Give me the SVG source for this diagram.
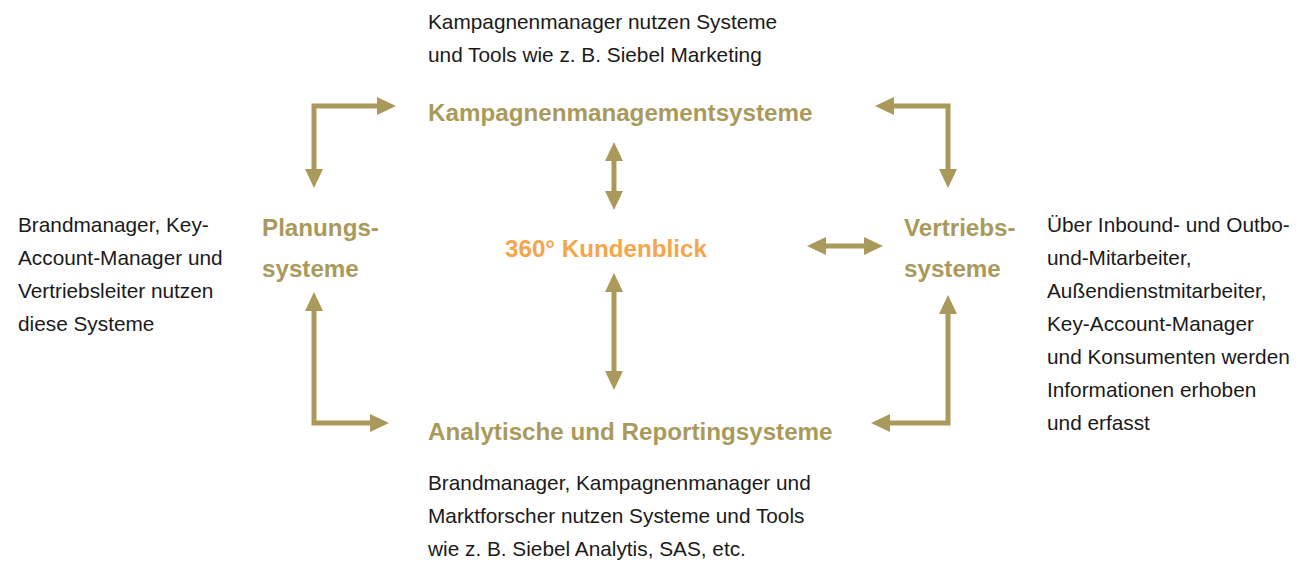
<svg xmlns="http://www.w3.org/2000/svg" width="1301" height="566" viewBox="0 0 1301 566">
<style>
.body{font-family:"Liberation Sans","Open Sans",sans-serif;font-size:20.8px;fill:#1a1a1a}
.head{font-family:"Liberation Sans","Open Sans",sans-serif;font-size:24.2px;font-weight:bold;fill:#a99a5c}
.center{font-family:"Liberation Sans","Open Sans",sans-serif;font-size:24.2px;font-weight:bold;fill:#f5a54a}
.conn{fill:none;stroke:#a99a5c;stroke-width:5;stroke-linejoin:miter}
</style>
<defs>
<marker id="ah" markerUnits="userSpaceOnUse" markerWidth="21" markerHeight="18" refX="2" refY="9" orient="auto-start-reverse" viewBox="0 0 21 18">
<path d="M0,0 L19,9 L0,18 z" fill="#a99a5c"/>
</marker>
</defs>
<rect width="1301" height="566" fill="#ffffff"/>
<g id="connectors">
<path class="conn" d="M314,171 L314,106 L379,106" marker-start="url(#ah)" marker-end="url(#ah)"/>
<path class="conn" d="M892,106 L948,106 L948,171" marker-start="url(#ah)" marker-end="url(#ah)"/>
<path class="conn" d="M614,159 L614,193" marker-start="url(#ah)" marker-end="url(#ah)"/>
<path class="conn" d="M824,246 L866,246" marker-start="url(#ah)" marker-end="url(#ah)"/>
<path class="conn" d="M314,309 L314,423 L372,423" marker-start="url(#ah)" marker-end="url(#ah)"/>
<path class="conn" d="M948,312 L948,423 L888,423" marker-start="url(#ah)" marker-end="url(#ah)"/>
<path class="conn" d="M614,290 L614,373" marker-start="url(#ah)" marker-end="url(#ah)"/>
</g>
<g id="node-kampagnen">
<text class="head" x="428" y="121">Kampagnenmanagementsysteme</text>
<text class="body" x="428" y="29">Kampagnenmanager nutzen Systeme</text>
<text class="body" x="428" y="62">und Tools wie z. B. Siebel Marketing</text>
</g>
<g id="node-planung">
<text class="head" x="262" y="236">Planungs-</text>
<text class="head" x="262" y="277">systeme</text>
<text class="body" x="18" y="232">Brandmanager, Key-</text>
<text class="body" x="18" y="265">Account-Manager und</text>
<text class="body" x="18" y="298">Vertriebsleiter nutzen</text>
<text class="body" x="18" y="331">diese Systeme</text>
</g>
<g id="node-kunde">
<text class="center" x="505" y="257">360° Kundenblick</text>
</g>
<g id="node-vertrieb">
<text class="head" x="904" y="236">Vertriebs-</text>
<text class="head" x="904" y="277">systeme</text>
<text class="body" x="1047" y="232">Über Inbound- und Outbo-</text>
<text class="body" x="1047" y="265">und-Mitarbeiter,</text>
<text class="body" x="1047" y="298">Außendienstmitarbeiter,</text>
<text class="body" x="1047" y="331">Key-Account-Manager</text>
<text class="body" x="1047" y="364">und Konsumenten werden</text>
<text class="body" x="1047" y="397">Informationen erhoben</text>
<text class="body" x="1047" y="430">und erfasst</text>
</g>
<g id="node-analytik">
<text class="head" x="428" y="440">Analytische und Reportingsysteme</text>
<text class="body" x="428" y="490">Brandmanager, Kampagnenmanager und</text>
<text class="body" x="428" y="523">Marktforscher nutzen Systeme und Tools</text>
<text class="body" x="428" y="556">wie z. B. Siebel Analytis, SAS, etc.</text>
</g>
</svg>
